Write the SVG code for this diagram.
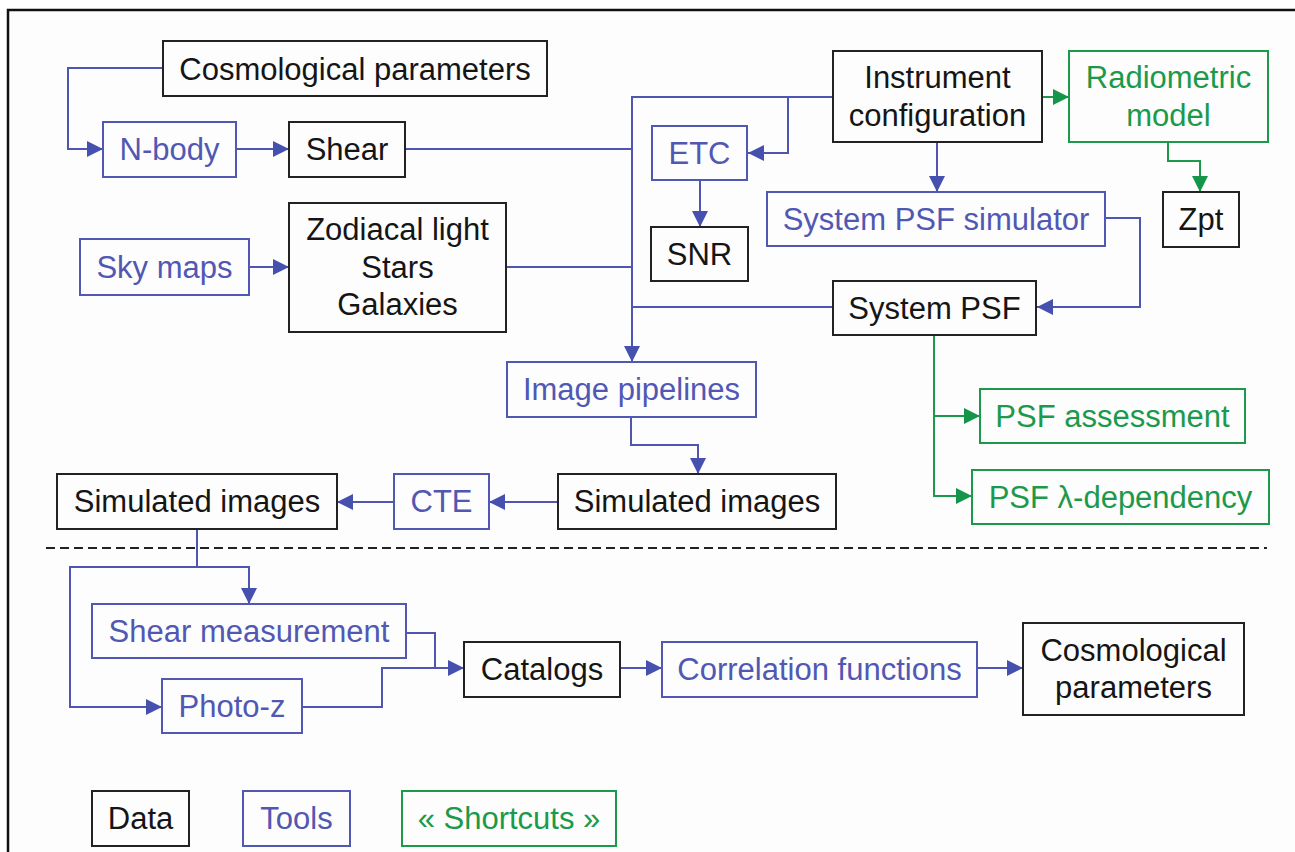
<svg xmlns="http://www.w3.org/2000/svg" width="1295" height="852" viewBox="0 0 1295 852">
<style>
text{font-family:"Liberation Sans",Arial,sans-serif;font-size:31px;text-anchor:middle}
.d rect{fill:none;stroke:#222;stroke-width:2}
.d text{fill:#151515}
.t rect{fill:none;stroke:#5058b4;stroke-width:2}
.t text{fill:#5058b4}
.s rect{fill:none;stroke:#1a9a4a;stroke-width:2}
.s text{fill:#1a9a4a}
.cb path{fill:none;stroke:#4e56b2;stroke-width:2}
.cg path{fill:none;stroke:#1a9a4a;stroke-width:2}
</style>
<defs>
<marker id="ab" markerUnits="userSpaceOnUse" markerWidth="17" markerHeight="18" refX="16" refY="8" orient="auto"><path d="M0,0 L16,8 L0,16 z" fill="#4650ae"/></marker>
<marker id="ag" markerUnits="userSpaceOnUse" markerWidth="17" markerHeight="18" refX="16" refY="8" orient="auto"><path d="M0,0 L16,8 L0,16 z" fill="#13964a"/></marker>
</defs>
<rect x="0" y="0" width="1295" height="852" fill="#ffffff"/>
<rect x="8" y="10" width="1300" height="860" fill="#fdfdfd" stroke="#111" stroke-width="2.5"/>
<path d="M46,548 H1267" stroke="#222" stroke-width="2" stroke-dasharray="9,5" fill="none"/>

<g id="connectors">
<g class="cb">
<path d="M163,68 H68 V149 H103" marker-end="url(#ab)"/>
<path d="M236,149 H289" marker-end="url(#ab)"/>
<path d="M405,149 H632"/>
<path d="M249,267 H289" marker-end="url(#ab)"/>
<path d="M506,267 H632"/>
<path d="M833,97 H632 V362" marker-end="url(#ab)"/>
<path d="M788,97 V153 H748" marker-end="url(#ab)"/>
<path d="M700,180 V227" marker-end="url(#ab)"/>
<path d="M937,142 V192" marker-end="url(#ab)"/>
<path d="M1105,218 H1140 V307 H1037" marker-end="url(#ab)"/>
<path d="M833,307 H632"/>
<path d="M631,417 V445 H698 V474" marker-end="url(#ab)"/>
<path d="M558,502 H489" marker-end="url(#ab)"/>
<path d="M394,502 H337" marker-end="url(#ab)"/>
<path d="M197,529 V567 H249 V604" marker-end="url(#ab)"/>
<path d="M197,567 H70 V707 H162" marker-end="url(#ab)"/>
<path d="M406,633 H435 V668 H464" marker-end="url(#ab)"/>
<path d="M302,707 H382 V668 H435"/>
<path d="M620,668 H662" marker-end="url(#ab)"/>
<path d="M977,668 H1023" marker-end="url(#ab)"/>
</g>
<g class="cg">
<path d="M1042,97 H1069" marker-end="url(#ag)"/>
<path d="M1168,142 V161 H1200 V192" marker-end="url(#ag)"/>
<path d="M934,335 V496 H972" marker-end="url(#ag)"/>
<path d="M934,416 H980" marker-end="url(#ag)"/>
</g>
</g>

<g id="cosmo-top" class="d"><rect x="163" y="41" width="384" height="55"/><text x="355" y="80">Cosmological parameters</text></g>
<g id="nbody" class="t"><rect x="103" y="122" width="133" height="55"/><text x="169.5" y="160">N-body</text></g>
<g id="shear" class="d"><rect x="289" y="122" width="116" height="55"/><text x="347" y="160">Shear</text></g>
<g id="skymaps" class="t"><rect x="80" y="239" width="169" height="56"/><text x="164.5" y="278">Sky maps</text></g>
<g id="zodiacal" class="d"><rect x="289" y="203" width="217" height="129"/><text x="397.5" y="240">Zodiacal light</text><text x="397.5" y="278">Stars</text><text x="397.5" y="315">Galaxies</text></g>
<g id="etc" class="t"><rect x="652" y="126" width="95" height="54"/><text x="699.5" y="164">ETC</text></g>
<g id="snr" class="d"><rect x="651" y="227" width="97" height="54"/><text x="699.5" y="265">SNR</text></g>
<g id="instrument" class="d"><rect x="833" y="51" width="209" height="91"/><text x="937.5" y="88">Instrument</text><text x="937.5" y="126">configuration</text></g>
<g id="radiometric" class="s"><rect x="1069" y="51" width="199" height="91"/><text x="1168.5" y="88">Radiometric</text><text x="1168.5" y="126">model</text></g>
<g id="zpt" class="d"><rect x="1163" y="192" width="76" height="55"/><text x="1201" y="230">Zpt</text></g>
<g id="psfsim" class="t"><rect x="767" y="192" width="338" height="54"/><text x="936" y="230">System PSF simulator</text></g>
<g id="systempsf" class="d"><rect x="833" y="281" width="203" height="54"/><text x="934.5" y="319">System PSF</text></g>
<g id="pipelines" class="t"><rect x="507" y="362" width="249" height="55"/><text x="631.5" y="400">Image pipelines</text></g>
<g id="psfassess" class="s"><rect x="980" y="389" width="265" height="54"/><text x="1112.5" y="427">PSF assessment</text></g>
<g id="psflambda" class="s"><rect x="972" y="470" width="297" height="54"/><text x="1120.5" y="508">PSF λ-dependency</text></g>
<g id="simright" class="d"><rect x="558" y="474" width="278" height="55"/><text x="697" y="512">Simulated images</text></g>
<g id="cte" class="t"><rect x="394" y="474" width="95" height="55"/><text x="441.5" y="512">CTE</text></g>
<g id="simleft" class="d"><rect x="57" y="474" width="280" height="55"/><text x="197" y="512">Simulated images</text></g>
<g id="shearmeas" class="t"><rect x="92" y="604" width="314" height="54"/><text x="249" y="642">Shear measurement</text></g>
<g id="photoz" class="t"><rect x="162" y="679" width="140" height="54"/><text x="232" y="717">Photo-z</text></g>
<g id="catalogs" class="d"><rect x="464" y="642" width="156" height="55"/><text x="542" y="680">Catalogs</text></g>
<g id="correlation" class="t"><rect x="662" y="642" width="315" height="55"/><text x="819.5" y="680">Correlation functions</text></g>
<g id="cosmo-bottom" class="d"><rect x="1023" y="623" width="221" height="92"/><text x="1133.5" y="661">Cosmological</text><text x="1133.5" y="698">parameters</text></g>
<g id="legend-data" class="d"><rect x="92" y="791" width="97" height="55"/><text x="140.5" y="829">Data</text></g>
<g id="legend-tools" class="t"><rect x="243" y="791" width="107" height="55"/><text x="296.5" y="829">Tools</text></g>
<g id="legend-shortcuts" class="s"><rect x="402" y="791" width="214" height="55"/><text x="509" y="829">« Shortcuts »</text></g>
</svg>
